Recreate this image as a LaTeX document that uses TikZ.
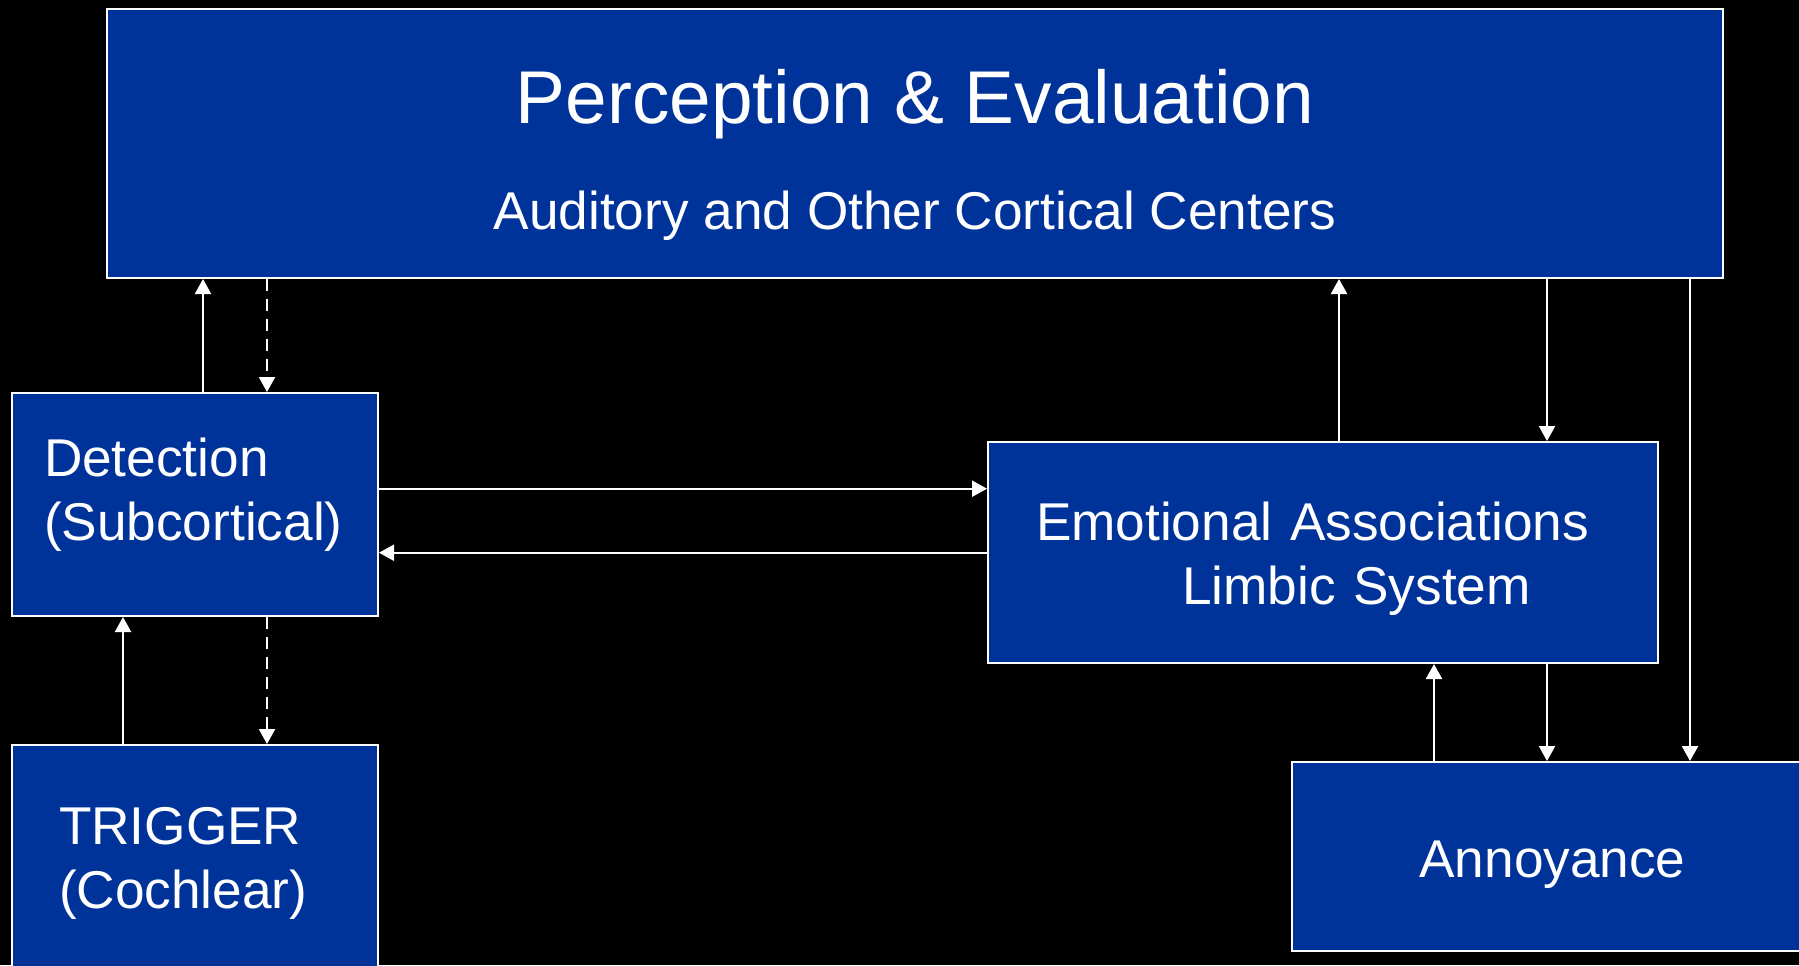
\documentclass[tikz,border=0pt]{standalone}
\usepackage{fontspec}
\setmainfont{Liberation Sans}
\usetikzlibrary{arrows.meta}
\definecolor{cortexblue}{RGB}{0,51,153}

\begin{document}
\begin{tikzpicture}[x=0.5pt, y=-0.5pt,
    box/.style={draw=white, line width=1pt, fill=cortexblue, text=white,
      font=\fontsize{26.6}{32}\selectfont},
    >={Triangle[length=7.5pt,width=8pt]}]
  \path[use as bounding box, fill=black] (0,0) rectangle (1799,965);

  \node[box, minimum width=808pt, minimum height=134.5pt, align=center,
    font=\fontsize{26.6}{52.85}\selectfont] (top) at (915,143.5)
    {{\fontsize{37.4}{45}\selectfont\rule{0pt}{45pt}Perception \& Evaluation}\\Auditory and Other Cortical Centers\rule[-12.35pt]{0pt}{12.35pt}};
  \node[box, minimum height=111.5pt, inner xsep=16pt, text width=151pt, align=left] (det) at (195,504.5)
    {\rule{0pt}{25pt}Detection\\(Subcortical)\rule[-20.8pt]{0pt}{20.8pt}};
  \node[box, minimum height=127.5pt, inner xsep=23.5pt, text width=136pt, align=left] (trig) at (195,872.5)
    {\rule{0pt}{25pt}TRIGGER\\(Cochlear)\rule[-21.5pt]{0pt}{21.5pt}};
  \node[box, minimum height=110.5pt, inner xsep=24pt, text width=287pt, align=left] (emo) at (1323,552.5)
    {\rule{0pt}{30pt}Emotional Associations\\\hspace*{73pt}Limbic System\rule[-10.5pt]{0pt}{10.5pt}};
  \node[box, minimum width=260.5pt, minimum height=94.5pt] (ann) at (1552.5,856.5)
    {\rule[-9.2pt]{0pt}{39.2pt}Annoyance};

  \path[->, white, line width=1.1pt]
    (det.north -| 203,0) edge (top.south -| 203,0)
    (top.south -| 267,0) edge[dashed, dash pattern=on 6pt off 4pt] (det.north -| 267,0)
    (trig.north -| 123,0) edge (det.south -| 123,0)
    (det.south -| 267,0) edge[dashed, dash pattern=on 6pt off 4pt] (trig.north -| 267,0)
    (det.east |- 0,488.7) edge (emo.west |- 0,488.7)
    (emo.west |- 0,552.7) edge (det.east |- 0,552.7)
    (emo.north -| 1339,0) edge (top.south -| 1339,0)
    (top.south -| 1547,0) edge (emo.north -| 1547,0)
    (top.south -| 1690,0) edge (ann.north -| 1690,0)
    (ann.north -| 1434,0) edge (emo.south -| 1434,0)
    (emo.south -| 1547,0) edge (ann.north -| 1547,0);
\end{tikzpicture}
\end{document}
